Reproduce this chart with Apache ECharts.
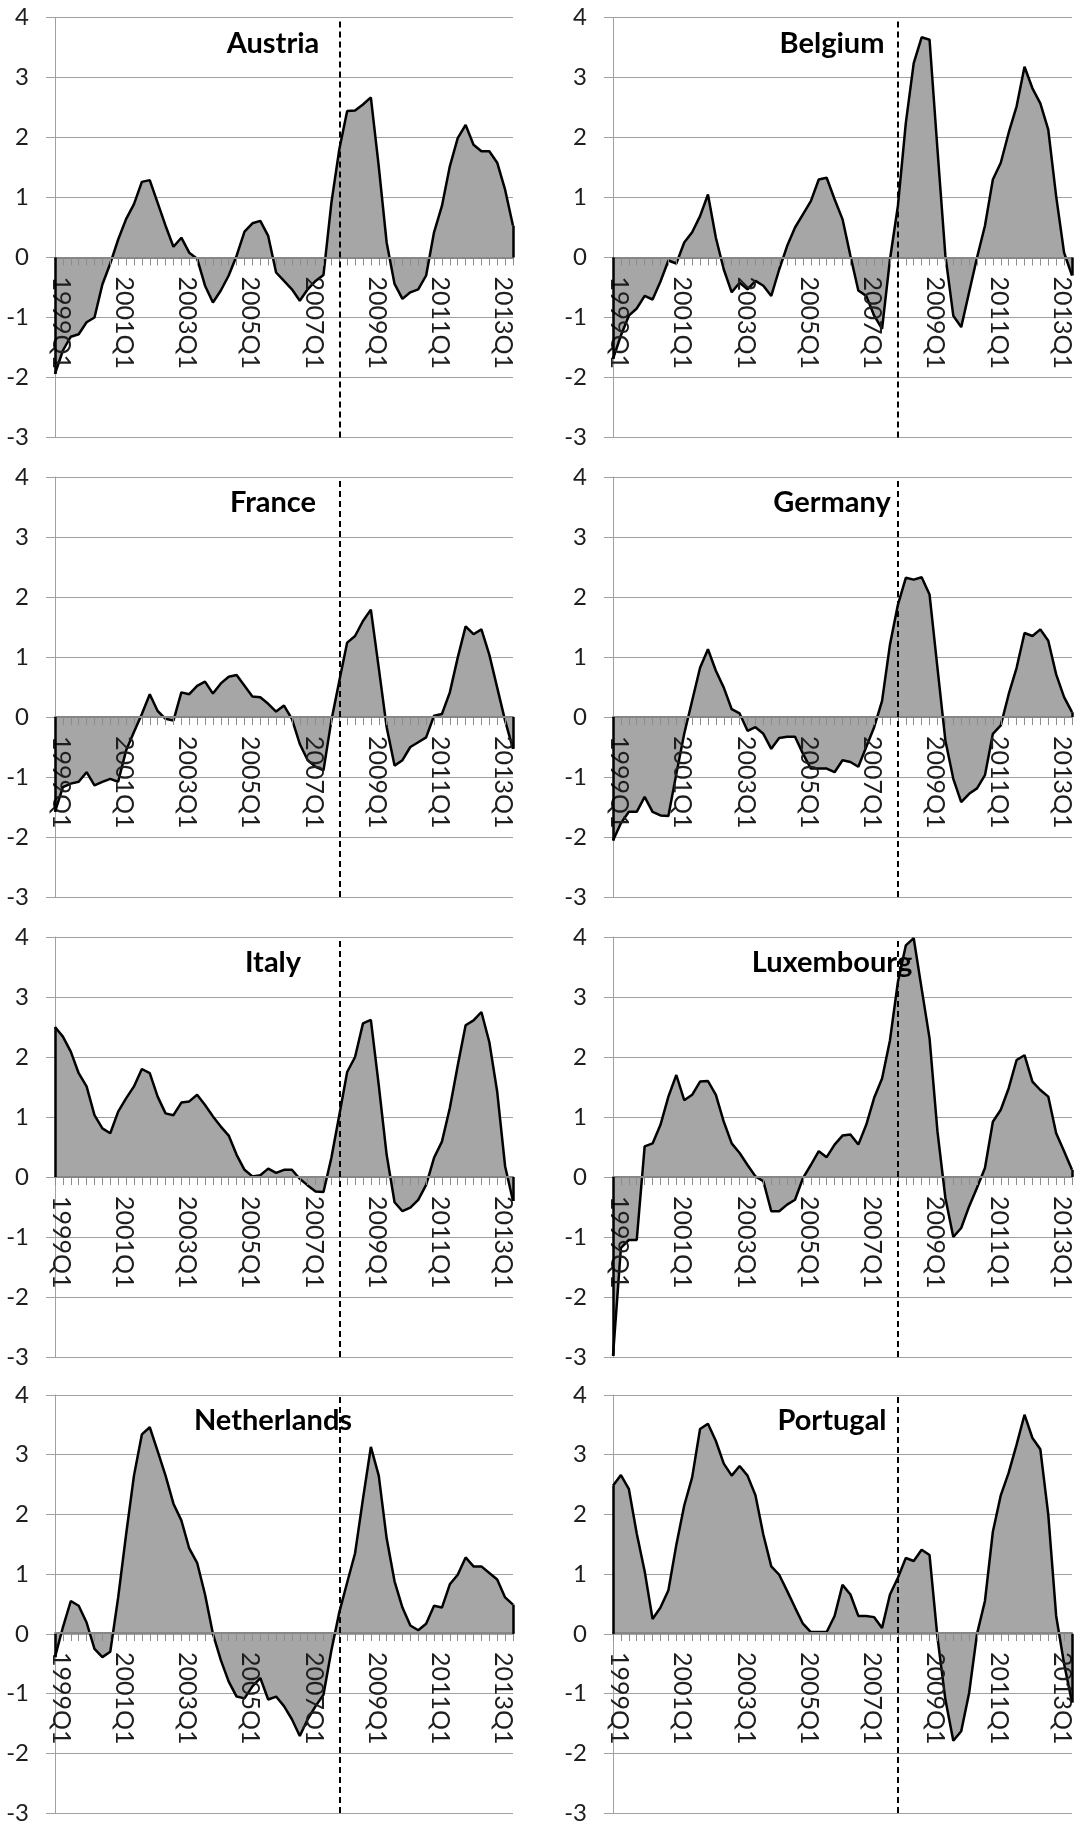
<!DOCTYPE html>
<html>
<head>
<meta charset="utf-8">
<script src="https://cdn.jsdelivr.net/npm/echarts@6/dist/echarts.min.js"></script>
<style>
html,body{margin:0;padding:0;background:#ffffff;}
#chart{width:1081px;height:1825px;}
</style>
</head>
<body>
<div id="chart"></div>
<script>
// ---------- DATA ----------
const quarters = [
  '1999Q1','1999Q2','1999Q3','1999Q4','2000Q1','2000Q2','2000Q3','2000Q4',
  '2001Q1','2001Q2','2001Q3','2001Q4','2002Q1','2002Q2','2002Q3','2002Q4',
  '2003Q1','2003Q2','2003Q3','2003Q4','2004Q1','2004Q2','2004Q3','2004Q4',
  '2005Q1','2005Q2','2005Q3','2005Q4','2006Q1','2006Q2','2006Q3','2006Q4',
  '2007Q1','2007Q2','2007Q3','2007Q4','2008Q1','2008Q2','2008Q3','2008Q4',
  '2009Q1','2009Q2','2009Q3','2009Q4','2010Q1','2010Q2','2010Q3','2010Q4',
  '2011Q1','2011Q2','2011Q3','2011Q4','2012Q1','2012Q2','2012Q3','2012Q4',
  '2013Q1','2013Q2','2013Q3'
];
const crisisQuarter = '2008Q1';
const yMin = -3, yMax = 4, yStep = 1;

const austria = [-1.94,-1.55,-1.32,-1.28,-1.08,-1.0,-0.45,-0.1,0.3,0.64,
  0.89,1.26,1.29,0.91,0.53,0.18,0.33,0.08,-0.02,-0.47,
  -0.75,-0.55,-0.3,0.03,0.43,0.57,0.61,0.36,-0.25,-0.39,
  -0.53,-0.72,-0.53,-0.39,-0.29,0.91,1.8,2.44,2.45,2.55,
  2.67,1.52,0.25,-0.44,-0.69,-0.58,-0.53,-0.3,0.42,0.86,
  1.52,1.99,2.21,1.88,1.77,1.77,1.58,1.13,0.53];

const belgium = [-1.69,-1.3,-0.97,-0.85,-0.64,-0.7,-0.4,-0.05,-0.1,0.25,
  0.42,0.69,1.05,0.33,-0.2,-0.58,-0.42,-0.53,-0.39,-0.47,
  -0.64,-0.2,0.19,0.5,0.72,0.94,1.3,1.33,0.97,0.64,
  0.03,-0.55,-0.64,-0.97,-1.19,-0.03,0.86,2.24,3.24,3.67,
  3.63,1.8,0.03,-0.97,-1.16,-0.58,0.0,0.53,1.3,1.58,
  2.08,2.52,3.18,2.82,2.57,2.13,1.02,0.08,-0.3];

const france = [-1.58,-1.17,-1.11,-1.08,-0.92,-1.14,-1.08,-1.03,-1.08,-0.56,
  -0.25,0.05,0.38,0.1,-0.03,-0.06,0.41,0.38,0.52,0.59,
  0.39,0.56,0.67,0.7,0.52,0.34,0.33,0.22,0.09,0.19,
  -0.03,-0.45,-0.72,-0.83,-0.89,-0.06,0.6,1.24,1.35,1.6,
  1.79,0.82,-0.17,-0.81,-0.72,-0.5,-0.42,-0.34,0.02,0.05,
  0.41,0.99,1.51,1.38,1.46,1.04,0.49,-0.06,-0.53];

const germany = [-2.06,-1.77,-1.58,-1.58,-1.33,-1.58,-1.64,-1.65,-0.95,-0.28,
  0.27,0.82,1.13,0.77,0.49,0.13,0.06,-0.23,-0.17,-0.28,
  -0.53,-0.35,-0.33,-0.33,-0.61,-0.86,-0.86,-0.86,-0.92,-0.72,
  -0.75,-0.83,-0.5,-0.17,0.27,1.21,1.87,2.32,2.29,2.33,
  2.04,0.82,-0.39,-1.03,-1.42,-1.28,-1.19,-0.97,-0.28,-0.14,
  0.38,0.82,1.4,1.35,1.46,1.27,0.71,0.33,0.08];

const italy = [2.5,2.34,2.09,1.73,1.51,1.03,0.81,0.73,1.09,1.31,
  1.51,1.8,1.73,1.34,1.06,1.03,1.24,1.26,1.37,1.2,
  1.01,0.84,0.69,0.37,0.12,0.01,0.03,0.14,0.07,0.12,
  0.12,-0.03,-0.14,-0.24,-0.25,0.32,1.03,1.75,2.0,2.56,
  2.62,1.53,0.37,-0.42,-0.57,-0.51,-0.38,-0.13,0.32,0.59,
  1.15,1.86,2.53,2.61,2.75,2.25,1.42,0.18,-0.4];

const luxembourg = [-2.98,-1.18,-1.05,-1.05,0.51,0.56,0.87,1.34,1.7,1.28,
  1.37,1.59,1.6,1.37,0.92,0.56,0.4,0.2,0.01,-0.07,
  -0.57,-0.57,-0.46,-0.38,-0.02,0.2,0.43,0.33,0.54,0.69,
  0.71,0.54,0.87,1.32,1.64,2.28,3.25,3.86,3.98,3.14,
  2.31,0.76,-0.35,-1.0,-0.85,-0.49,-0.18,0.15,0.92,1.12,
  1.48,1.95,2.03,1.59,1.45,1.34,0.73,0.43,0.12];

const netherlands = [-0.39,0.11,0.55,0.47,0.19,-0.25,-0.39,-0.3,0.61,1.66,
  2.65,3.34,3.46,3.06,2.65,2.18,1.9,1.43,1.19,0.66,
  0.0,-0.44,-0.8,-1.05,-1.08,-0.88,-0.74,-1.1,-1.05,-1.21,
  -1.43,-1.71,-1.43,-1.21,-1.02,-0.28,0.36,0.86,1.35,2.26,
  3.13,2.65,1.6,0.88,0.44,0.14,0.06,0.17,0.47,0.44,
  0.83,0.99,1.28,1.13,1.13,1.02,0.91,0.61,0.49];

const portugal = [2.48,2.66,2.43,1.68,1.05,0.25,0.44,0.73,1.49,2.15,
  2.62,3.43,3.52,3.23,2.85,2.65,2.81,2.65,2.32,1.66,
  1.13,0.99,0.72,0.44,0.17,0.03,0.03,0.03,0.3,0.82,
  0.66,0.3,0.3,0.28,0.1,0.66,0.94,1.27,1.22,1.41,
  1.32,-0.06,-1.1,-1.79,-1.63,-0.99,0.0,0.55,1.71,2.32,
  2.7,3.17,3.67,3.28,3.09,2.0,0.3,-0.5,-1.15];

const countryNames = ['Austria','Belgium','France','Germany','Italy','Luxembourg','Netherlands','Portugal'];
const countryData = [austria, belgium, france, germany, italy, luxembourg, netherlands, portugal];

// ---------- LAYOUT / STYLE ----------
const colLeft = [55, 613];
const colWidth = [458, 459];
const rowTop = [17.5, 477, 937, 1395];
const rowHeight = 420;
const titleX = [273, 832];
const titleDy = 26;
const FONT = 'Lato, "Open Sans", "DejaVu Sans", sans-serif';
// category axis sits on the zero line: shift it up from the grid bottom
const zeroOffset = -rowHeight * (0 - yMin) / (yMax - yMin);

const grids = [], xAxes = [], yAxes = [], series = [], graphics = [];
const lastIdx = quarters.length - 1;

countryNames.forEach((name, i) => {
  const col = i % 2, row = Math.floor(i / 2);
  const data = countryData[i];
  grids.push({left: colLeft[col], top: rowTop[row], width: colWidth[col], height: rowHeight, containLabel: false});
  xAxes.push({
    type: 'category', gridIndex: i, data: quarters, boundaryGap: false, z: 4,
    position: 'bottom', offset: zeroOffset,
    axisLine: {onZero: false, lineStyle: {color: '#868686', width: 2}},
    axisTick: {show: true, interval: 0, length: 8, lineStyle: {color: '#8c8c8c', width: 1}},
    axisLabel: {interval: 7, rotate: -90, margin: 19, fontSize: 25, color: '#1e1e1e', fontFamily: FONT,
                verticalAlign: 'bottom', lineHeight: 12},
    splitLine: {show: false}
  });
  yAxes.push({
    type: 'value', gridIndex: i, min: yMin, max: yMax, interval: yStep,
    axisLine: {show: true, lineStyle: {color: '#a0a0a0', width: 1}},
    axisTick: {show: true, length: 9, lineStyle: {color: '#a0a0a0'}},
    axisLabel: {margin: 26, fontSize: 24, color: '#1e1e1e', fontFamily: FONT},
    splitLine: {show: true, lineStyle: {color: '#a0a0a0', width: 1}}
  });
  const edge = {color: '#000', width: 2.5, type: 'solid'};
  series.push({
    name: name, type: 'line', xAxisIndex: i, yAxisIndex: i, data: data,
    symbol: 'none', showSymbol: false, animation: false, z: 2,
    lineStyle: {color: '#000', width: 2.5},
    areaStyle: {color: '#a6a6a6', opacity: 1},
    markLine: {
      silent: true, symbol: ['none', 'none'], animation: false,
      label: {show: false},
      data: [
        {xAxis: crisisQuarter, lineStyle: {color: '#000', width: 2, type: [6, 4]}},
        [{coord: [quarters[0], 0], lineStyle: edge}, {coord: [quarters[0], data[0]], lineStyle: edge}],
        [{coord: [quarters[lastIdx], 0], lineStyle: edge}, {coord: [quarters[lastIdx], data[lastIdx]], lineStyle: edge}]
      ]
    }
  });
  graphics.push({
    type: 'text', z: 100, x: titleX[col], y: rowTop[row] + titleDy,
    style: {text: name, fontSize: 29, fontWeight: 'bold', fontFamily: FONT, fill: '#000',
            align: 'center', verticalAlign: 'middle'}
  });
});

const chart = echarts.init(document.getElementById('chart'), null, {renderer: 'canvas'});
chart.setOption({
  animation: false,
  backgroundColor: '#ffffff',
  grid: grids, xAxis: xAxes, yAxis: yAxes, series: series, graphic: graphics
});
</script>
</body>
</html>
